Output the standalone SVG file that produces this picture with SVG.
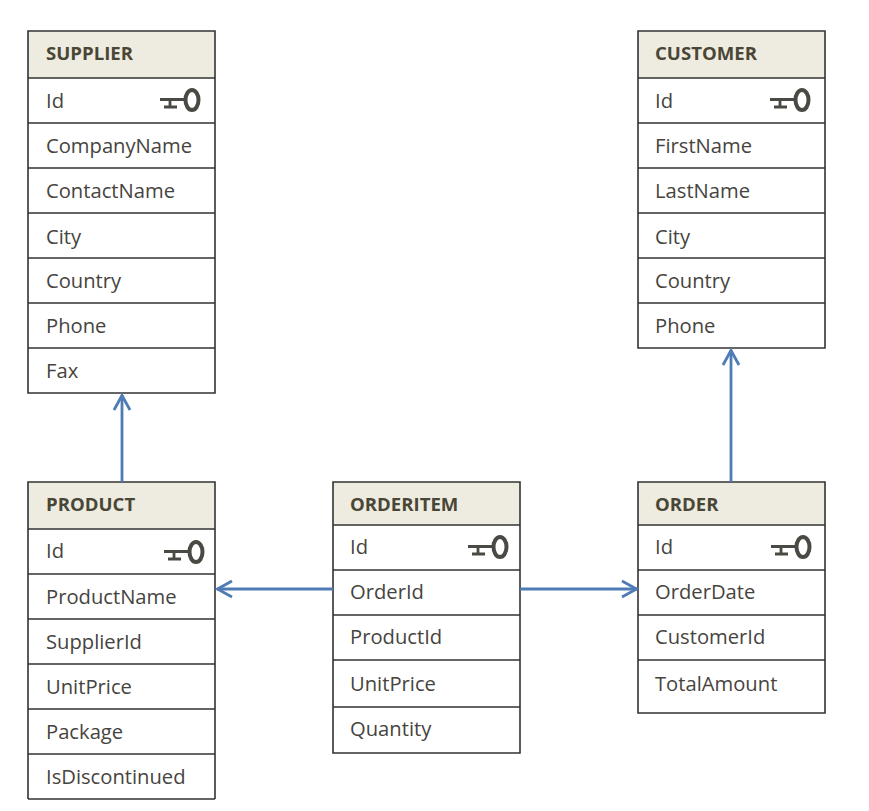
<svg xmlns="http://www.w3.org/2000/svg" width="869" height="811" viewBox="0 0 869 811">
<style>
text{font-family:"Open Sans","Noto Sans","Liberation Sans",sans-serif;font-size:20.2px;fill:#46443e}
.t{font-weight:700;font-size:18.6px;fill:#4a4636}
.h{fill:#eeece1;stroke:none}
.b{fill:#fff;stroke:none}
.l{stroke:#333;stroke-width:1.6;fill:none}
.c{stroke:#4f7cb5;stroke-width:2.8;fill:none;marker-end:url(#a)}
</style>
<defs>
<marker id="a" markerUnits="userSpaceOnUse" markerWidth="20" markerHeight="22" refX="16" refY="10" orient="auto"><path d="M1 2L15.500 10L1 18" fill="none" stroke="#4f7cb5" stroke-width="2.800"/></marker>
<g id="k"><path d="M0 6.500H25M10 6.500V14M4 14H17" fill="none" stroke="#4a4a44" stroke-width="2.800"/><ellipse cx="32" cy="7" rx="6.500" ry="10" fill="none" stroke="#4a4a44" stroke-width="4"/></g>
</defs>
<rect width="869" height="811" fill="#fff"/>
<g id="supplier">
<rect class="h" x="28" y="31" width="187" height="47"/>
<path class="l" d="M28 31H215V393H28ZM28 78H215M28 123H215M28 168H215M28 213H215M28 258H215M28 303H215M28 348H215"/>
<text class="t" x="46" y="60">SUPPLIER</text>
<text x="46" y="108">Id</text><use href="#k" x="160" y="93"/>
<text x="46" y="153">CompanyName</text><text x="46" y="198">ContactName</text><text x="46" y="244">City</text><text x="46" y="288">Country</text><text x="46" y="333">Phone</text><text x="46" y="378">Fax</text>
</g>
<g id="customer">
<rect class="h" x="638" y="31" width="187" height="47"/>
<path class="l" d="M638 31H825V348H638ZM638 78H825M638 123H825M638 168H825M638 213H825M638 258H825M638 303H825"/>
<text class="t" x="655" y="60">CUSTOMER</text>
<text x="655" y="108">Id</text><use href="#k" x="770" y="93"/>
<text x="655" y="153">FirstName</text><text x="655" y="198">LastName</text><text x="655" y="244">City</text><text x="655" y="288">Country</text><text x="655" y="333">Phone</text>
</g>
<g id="product">
<rect class="h" x="28" y="482" width="187" height="47"/>
<path class="l" d="M215 799V482H28V799M28 529H215M28 574H215M28 619H215M28 664H215M28 709H215M28 754H215M28 799H215"/>
<text class="t" x="46" y="511">PRODUCT</text>
<text x="46" y="558">Id</text><use href="#k" x="164" y="545"/>
<text x="46" y="604">ProductName</text><text x="46" y="649">SupplierId</text><text x="46" y="694">UnitPrice</text><text x="46" y="739">Package</text><text x="46" y="784">IsDiscontinued</text>
</g>
<g id="orderitem">
<rect class="h" x="333" y="482" width="187" height="43"/>
<path class="l" d="M333 482H520V753H333ZM333 525H520M333 570H520M333 615H520M333 660H520M333 707H520"/>
<text class="t" x="350" y="511">ORDERITEM</text>
<text x="350" y="554">Id</text><use href="#k" x="468" y="540"/>
<text x="350" y="599">OrderId</text><text x="350" y="644">ProductId</text><text x="350" y="691">UnitPrice</text><text x="350" y="736">Quantity</text>
</g>
<g id="order">
<rect class="h" x="638" y="482" width="187" height="43"/>
<path class="l" d="M638 482H825V713H638ZM638 525H825M638 570H825M638 615H825M638 660H825"/>
<text class="t" x="655" y="511">ORDER</text>
<text x="655" y="554">Id</text><use href="#k" x="771" y="540"/>
<text x="655" y="599">OrderDate</text><text x="655" y="644">CustomerId</text><text x="655" y="691">TotalAmount</text>
</g>
<g id="connectors">
<path class="c" d="M122 482V395"/>
<path class="c" d="M731 482V350"/>
<path class="c" d="M333 589H217"/>
<path class="c" d="M520 589H637"/>
</g>
</svg>
